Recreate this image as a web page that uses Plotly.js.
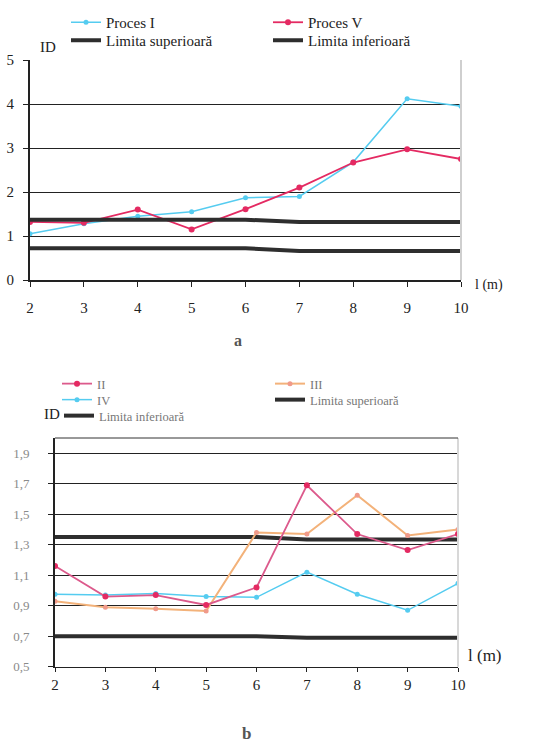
<!DOCTYPE html>
<html>
<head>
<meta charset="utf-8">
<script src="https://cdn.plot.ly/plotly-3.0.1.min.js"></script>
<style>html,body{margin:0;padding:0;background:#fff;}#chart{width:546px;height:753px;}</style>
</head>
<body>
<div id="chart"></div>
<script>
// ---- data ----
const lengths = [2, 3, 4, 5, 6, 7, 8, 9, 10];
// chart a
const procesI = [1.05, 1.28, 1.45, 1.55, 1.87, 1.9, 2.68, 4.12, 3.95];
const procesV = [1.32, 1.3, 1.6, 1.15, 1.61, 2.1, 2.67, 2.97, 2.75];
const limSupA = [1.37, 1.37, 1.37, 1.37, 1.37, 1.32, 1.32, 1.32, 1.32];
const limInfA = [0.72, 0.72, 0.72, 0.72, 0.72, 0.66, 0.66, 0.66, 0.66];
// chart b
const serII  = [1.16, 0.96, 0.97, 0.905, 1.02, 1.69, 1.37, 1.265, 1.37];
const serIII = [0.93, 0.89, 0.88, 0.865, 1.38, 1.37, 1.625, 1.36, 1.40];
const serIV  = [0.975, 0.97, 0.98, 0.96, 0.955, 1.12, 0.975, 0.87, 1.047];
const limSupB = [1.35, 1.35, 1.35, 1.35, 1.35, 1.335, 1.335, 1.335, 1.335];
const limInfB = [0.70, 0.70, 0.70, 0.70, 0.70, 0.69, 0.69, 0.69, 0.69];
const yTicksA = [0, 1, 2, 3, 4, 5];
const yTicksB = [0.5, 0.7, 0.9, 1.1, 1.3, 1.5, 1.7, 1.9];

const SERIF = 'Liberation Serif';
const W = 546, H = 753;
const px = v => v / W;
const py = v => 1 - v / H;

const fA = {family: SERIF, size: 15, color: '#222'};
const fB = {family: SERIF, size: 12.5, color: '#777'};

const traces = [
  {x: lengths, y: procesI, name: 'Proces I', mode: 'lines+markers', line: {color: '#55ccf0', width: 1.5}, marker: {color: '#55ccf0', size: 5}, xaxis: 'x', yaxis: 'y', legend: 'legend'},
  {x: lengths, y: procesV, name: 'Proces V', mode: 'lines+markers', line: {color: '#e42a62', width: 1.8}, marker: {color: '#e42a62', size: 6}, xaxis: 'x', yaxis: 'y', legend: 'legend2'},
  {x: lengths, y: limSupA, name: 'Limita superioară', mode: 'lines', line: {color: '#2e2e2e', width: 4}, xaxis: 'x', yaxis: 'y', legend: 'legend3'},
  {x: lengths, y: limInfA, name: 'Limita inferioară', mode: 'lines', line: {color: '#2e2e2e', width: 4}, xaxis: 'x', yaxis: 'y', legend: 'legend4'},

  {x: lengths, y: limSupB, name: 'Limita superioară', mode: 'lines', line: {color: '#2e2e2e', width: 4}, xaxis: 'x2', yaxis: 'y2', legend: 'legend8'},
  {x: lengths, y: limInfB, name: 'Limita inferioară', mode: 'lines', line: {color: '#2e2e2e', width: 4}, xaxis: 'x2', yaxis: 'y2', legend: 'legend9'},
  {x: lengths, y: serIV, name: 'IV', mode: 'lines+markers', line: {color: '#55ccf0', width: 1.5}, marker: {color: '#55ccf0', size: 5}, xaxis: 'x2', yaxis: 'y2', legend: 'legend7'},
  {x: lengths, y: serIII, name: 'III', mode: 'lines+markers', line: {color: '#f3b27a', width: 2}, marker: {color: '#f09a8a', size: 5}, xaxis: 'x2', yaxis: 'y2', legend: 'legend6'},
  {x: lengths, y: serII, name: 'II', mode: 'lines+markers', line: {color: '#dc5a8c', width: 1.8}, marker: {color: '#e42a62', size: 6}, xaxis: 'x2', yaxis: 'y2', legend: 'legend5'}
];

const baseX = {
  range: [2, 10], tickvals: lengths, ticks: 'outside', ticklen: 5, tickcolor: '#222',
  showline: true, linecolor: '#222', linewidth: 1.5, showgrid: false, zeroline: false,
  tickfont: {family: SERIF, size: 15, color: '#222'}
};
const baseY = {
  ticks: 'outside', ticklen: 5, tickcolor: '#222', showline: true, linecolor: '#222', linewidth: 2,
  showgrid: true, gridcolor: '#222', gridwidth: 1, zeroline: false
};

const lg = (x, y, font) => ({
  orientation: 'v', xanchor: 'left', yanchor: 'top', bgcolor: 'rgba(0,0,0,0)',
  borderwidth: 0, itemwidth: 30, x: px(x), y: py(y), font: font, visible: true
});

const layout = {
  width: W, height: H, margin: {l: 0, r: 0, t: 0, b: 0}, showlegend: true,
  paper_bgcolor: '#fff', plot_bgcolor: '#fff', separators: ',.',
  font: {family: SERIF, color: '#222'},
  xaxis: Object.assign({}, baseX, {domain: [px(30), px(461)], anchor: 'y', ticklabelstandoff: 8}),
  yaxis: Object.assign({}, baseY, {domain: [py(280), py(60)], anchor: 'x', range: [0, 5], tickvals: yTicksA,
    ticklabelstandoff: 6, tickfont: {family: SERIF, size: 15, color: '#222'}}),
  xaxis2: Object.assign({}, baseX, {domain: [px(55), px(458)], anchor: 'y2', ticklen: 4, ticklabelstandoff: 0}),
  yaxis2: Object.assign({}, baseY, {domain: [py(666.7), py(438)], anchor: 'x2', range: [0.5, 2.0], tickvals: yTicksB,
    tickformat: '.1f', ticklabelstandoff: 16, tickfont: {family: SERIF, size: 13, color: '#8a8a8a'}}),
  legend:  lg(66, 6, fA),
  legend2: lg(268, 6, fA),
  legend3: lg(66, 24, fA),
  legend4: lg(268, 24, fA),
  legend5: lg(57, 369, fB),
  legend6: lg(270, 369, fB),
  legend7: lg(57, 385, fB),
  legend8: lg(270, 385, fB),
  legend9: lg(59, 401, fB),
  shapes: [
    {type: 'line', xref: 'x domain', yref: 'y domain', x0: 1, x1: 1, y0: 0, y1: 1, line: {color: '#cfcfcf', width: 2}},
    {type: 'line', xref: 'x2 domain', yref: 'y2 domain', x0: 1, x1: 1, y0: 0, y1: 1, line: {color: '#d8d8d8', width: 2}},
    {type: 'line', xref: 'x2 domain', yref: 'y2 domain', x0: 0, x1: 1, y0: 1, y1: 1, line: {color: '#333', width: 1}}
  ],
  annotations: [
    {text: 'ID', xref: 'paper', yref: 'paper', x: px(38), y: py(37), showarrow: false, font: {family: SERIF, size: 15, color: '#222'}},
    {text: 'l (m)', xref: 'paper', yref: 'paper', x: px(505), y: py(285), showarrow: false, font: {family: SERIF, size: 14, color: '#222'}},
    {text: '<b>a</b>', xref: 'paper', yref: 'paper', x: px(238), y: py(340), showarrow: false, font: {family: SERIF, size: 16, color: '#555'}},
    {text: 'ID', xref: 'paper', yref: 'paper', x: px(42), y: py(414), showarrow: false, font: {family: SERIF, size: 15, color: '#222'}},
    {text: 'l (m)', xref: 'paper', yref: 'paper', x: px(504), y: py(667), showarrow: false, font: {family: SERIF, size: 17, color: '#222'}},
    {text: '<b>b</b>', xref: 'paper', yref: 'paper', x: px(246), y: py(745), showarrow: false, font: {family: SERIF, size: 17, color: '#555'}}
  ]
};

Plotly.newPlot('chart', traces, layout, {staticPlot: true, displayModeBar: false});
</script>
</body>
</html>
